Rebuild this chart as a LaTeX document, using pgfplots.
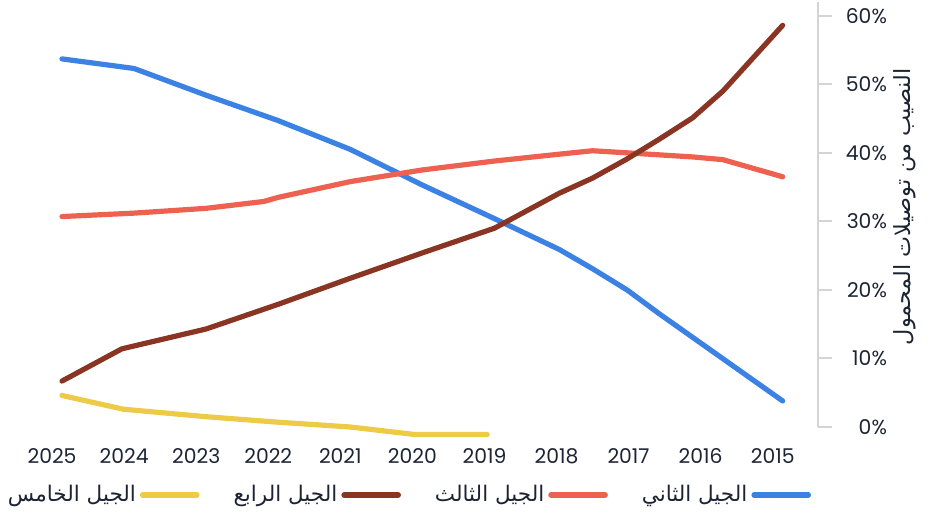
\documentclass[border=0pt]{standalone}
\usepackage{fontspec}
\usepackage{pgfplots}
\pgfplotsset{compat=1.18}
\setmainfont{Poppins}
\newfontfamily\arabicfont[Script=Arabic]{DejaVu Sans}
\TeXXeTstate=1
\definecolor{gtwo}{HTML}{3B82E4}
\definecolor{gthree}{HTML}{EE6150}
\definecolor{gfour}{HTML}{8A3424}
\definecolor{gfive}{HTML}{EECB46}
\definecolor{txt}{HTML}{1C2434}
\begin{document}
\begin{tikzpicture}
\useasboundingbox (-31bp,-44bp) rectangle (437bp,213.5bp);
\begin{axis}[
  at={(0,0)}, anchor=south west,
  width=378bp, height=212.5bp, scale only axis,
  x dir=reverse,
  xmin=2014.51, xmax=2025,
  ymin=0, ymax=62,
  clip=false,
  axis y line*=right, axis x line*=bottom,
  x axis line style={draw=none},
  y axis line style={draw=black!17, line width=1bp},
  xtick={2015,...,2025},
  ytick={0,10,...,60},
  xtick style={draw=none},
  ytick style={draw=black!17, line width=1bp},
  tick align=outside,
  major tick length=7bp,
  /pgf/number format/assume math mode=true,
  tick label style={font=\fontsize{10.2}{12}\selectfont, text=txt},
  xticklabel style={/pgf/number format/1000 sep=, xshift=-5bp},
  yticklabel={\pgfmathprintnumber{\tick}\%},
  yticklabel style={anchor=east, xshift=31bp},
  every axis y label/.style={at={(axis description cs:1.115,0.518)}, rotate=90, anchor=center},
  ylabel={\arabicfont\beginR النصيب من توصيلات المحمول\endR},
  label style={font=\fontsize{11.2}{13}\selectfont, text=txt},
  legend plot pos=right,
  reverse legend,
  legend columns=4,
  legend style={at={(axis description cs:0.457,-0.16)}, anchor=center, draw=none,
    font=\arabicfont\fontsize{10.8}{12}\selectfont, text=txt,
    /tikz/every even column/.append style={column sep=15bp}},
  legend image code/.code={\draw[#1, line width=2.8bp, line cap=round] (0bp,0bp) -- (27bp,0bp);},
  every axis plot/.append style={line width=2.6bp, line cap=round, line join=round, no markers},
]
\addplot[color=gtwo] coordinates {
  (2025,53.7)(2024,52.3)(2023,48.4)(2022,44.7)(2021,40.5)(2020,35.3)(2019,30.4)
  (2018.1,25.9)(2017.64,23.1)(2017.16,20.0)(2016.71,16.5)(2015,3.8)};
\addplot[color=gthree] coordinates {
  (2025,30.7)(2024,31.2)(2023,31.9)(2022.2,32.9)(2022,33.5)(2021,35.8)(2020,37.5)
  (2019,38.8)(2018.1,39.8)(2017.64,40.3)(2017.16,40.0)(2016.71,39.7)(2016.25,39.4)
  (2015.83,39.0)(2015,36.5)};
\addplot[color=gfour] coordinates {
  (2025,6.7)(2024.17,11.4)(2023,14.3)(2022,17.9)(2021,21.7)(2020,25.4)(2019,29.0)
  (2018.1,34.1)(2017.64,36.3)(2017.16,39.1)(2016.71,42.0)(2016.25,45.1)
  (2015.83,49.0)(2015,58.6)};
\addplot[color=gfive] coordinates {
  (2025,4.6)(2024.15,2.6)(2023,1.5)(2022,0.7)(2021,0.0)(2020.1,-1.1)(2019.1,-1.1)};
\legend{{\beginR الجيل الثاني\endR},{\beginR الجيل الثالث\endR},{\beginR الجيل الرابع\endR},{\beginR الجيل الخامس\endR}}
\end{axis}
\end{tikzpicture}
\end{document}
